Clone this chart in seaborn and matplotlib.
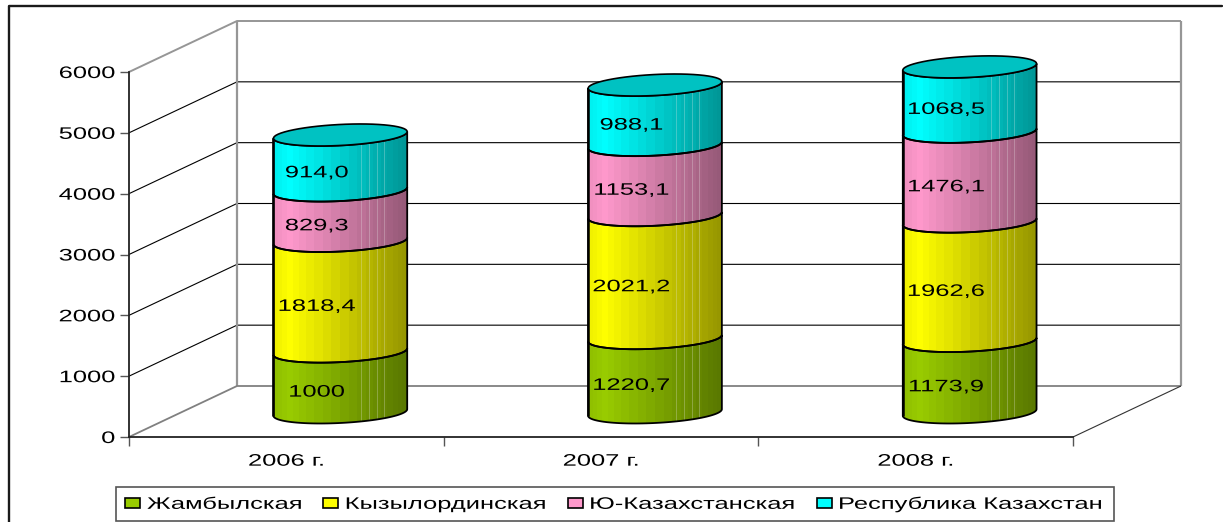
import matplotlib
matplotlib.use("Agg")
import matplotlib.pyplot as plt
import matplotlib.patheffects as pe
import numpy as np
import seaborn as sns
from matplotlib.lines import Line2D
from matplotlib.offsetbox import DrawingArea
from matplotlib.patches import Polygon
from matplotlib.transforms import Affine2D

# Данные
years = ["2006 г.", "2007 г.", "2008 г."]
region_names = ["Жамбылская", "Кызылординская", "Ю-Казахстанская", "Республика Казахстан"]
zhambyl = [1000, 1220.7, 1173.9]
kyzylorda = [1818.4, 2021.2, 1962.6]
south_kz = [829.3, 1153.1, 1476.1]
kazakhstan = [914.0, 988.1, 1068.5]
zhambyl_txt = ["1000", "1220,7", "1173,9"]
kyzylorda_txt = ["1818,4", "2021,2", "1962,6"]
south_kz_txt = ["829,3", "1153,1", "1476,1"]
kazakhstan_txt = ["914,0", "988,1", "1068,5"]
y_ticks = [0, 1000, 2000, 3000, 4000, 5000, 6000]

series = [zhambyl, kyzylorda, south_kz, kazakhstan]
series_txt = [zhambyl_txt, kyzylorda_txt, south_kz_txt, kazakhstan_txt]
colors = ["#99CC00", "#FFFF00", "#FF99CC", "#00FFFF"]

W, H = 1223, 522
FONT = 12
STRETCH = 1.53


class StretchX(pe.AbstractPathEffect):
    # старый Excel растягивал шрифт по ширине
    def __init__(self, k=STRETCH, anchor="center"):
        super().__init__()
        self.k = k
        self.anchor = anchor

    def draw_path(self, renderer, gc, tpath, affine, rgbFace=None):
        ext = tpath.get_extents()
        x0 = {"left": ext.x0, "center": (ext.x0 + ext.x1) / 2, "right": ext.x1}[self.anchor]
        stretched = Affine2D().translate(-x0, 0).scale(self.k, 1).translate(x0, 0) + affine
        renderer.draw_path(gc, tpath, stretched, rgbFace)


sns.set_theme(style="white")
plt.rcParams["font.family"] = ["Liberation Sans", "DejaVu Sans"]

fig = plt.figure(figsize=(W / 100, H / 100), dpi=100)
ax = fig.add_axes([129 / W, 1 - 437 / H, 944 / W, 365 / H])
ax.patch.set_alpha(0)

# Столбики через seaborn, дальше по их геометрии рисуем цилиндры
bottom = np.zeros(3)
for vals, name, c in zip(series, region_names, colors):
    sns.barplot(x=years, y=vals, bottom=bottom, color=c, saturation=1, width=0.425,
                label=name, ax=ax, legend=False)
    bottom = bottom + np.array(vals)

ax.set_xlim(-0.5, 2.5)
ax.set_ylim(0, 6000)
DX = 108 / (944 / 3)        # глубина "3D" коробки
DY = 51 / (365 / 6000)
LIFT = 403                  # основание цилиндра над передней гранью
B = 10.5 / (365 / 6000)     # полуоси эллипса
TILT = 3.3 / (365 / 6000)

# Стены коробки
gray = "#969696"
wall = dict(clip_on=False, zorder=1, solid_capstyle="butt")
for v in y_ticks[1:-1]:
    ax.plot([-0.5, -0.5 + DX, 2.5 + DX], [v, v + DY, v + DY], color="black", lw=0.8, **wall)
ax.plot([-0.5, -0.5 + DX, 2.5 + DX], [6000, 6000 + DY, 6000 + DY], color=gray, lw=1.4, **wall)
ax.plot([-0.5 + DX, -0.5 + DX], [DY, 6000 + DY], color=gray, lw=1.6, **wall)
ax.plot([2.5 + DX, 2.5 + DX], [DY, 6000 + DY], color=gray, lw=1.6, **wall)
ax.plot([-0.5, -0.5 + DX, 2.5 + DX], [0, DY, DY], color="#808080", lw=1.3, **wall)
ax.plot([2.5, 2.5 + DX], [0, DY], color="#333333", lw=0.8, **wall)

# Легенда
leg = ax.legend(loc="lower left", bbox_to_anchor=(116 / W, 1 - 521 / H), bbox_transform=fig.transFigure,
                ncols=4, fontsize=FONT, frameon=True, fancybox=False, framealpha=1,
                edgecolor="#555555", borderaxespad=0, borderpad=0.55, handlelength=0.9,
                handleheight=0.54, handletextpad=0.42, columnspacing=1.2)
leg.get_frame().set_linewidth(1.2)
leg.set_zorder(6)
for h in leg.legend_handles:
    h.set_edgecolor("black")
    h.set_linewidth(1.2)
renderer = fig.canvas.get_renderer()
columns = leg._legend_handle_box._children
texts = leg.get_texts()
for txt, col in zip(texts, list(columns)):
    extra = txt.get_window_extent(renderer).width * (STRETCH - 1) * 72 / fig.dpi
    if txt is texts[-1]:
        columns.append(DrawingArea(extra - 14.4, 0))
    else:
        columns.insert(columns.index(col) + 1, DrawingArea(extra - 14.4, 0))
for txt in texts:
    txt.set_path_effects([StretchX(anchor="left")])
    txt.set_color("black")

# Грани цилиндра: шире к краям, светлые швы справа
angles = np.linspace(0, np.pi, 25)
edges = (1 - np.cos(angles)) / 2
n_col = 270
fr = (np.arange(n_col) + 0.5) / n_col
facet = np.clip(np.searchsorted(edges, fr) - 1, 0, len(edges) - 2)
mid = ((edges[:-1] + edges[1:]) / 2)[facet]
shade = np.interp(mid, [0, 0.12, 1], [0.93, 1.0, 0.58])
seams = [0.66, 0.72, 0.78, 0.83, 0.865, 0.9, 0.93, 0.955]


def arc(cx, a, base, start, stop):
    t = np.linspace(start, stop, 60)
    return np.c_[cx + a * np.cos(t), base + B * np.sin(t) + TILT * np.cos(t)]


bars = ax.patches
for j, c in enumerate(colors):
    rgb = np.array(matplotlib.colors.to_rgb(c))
    strip = rgb[None, :] * shade[:, None]
    for s in seams:
        idx = int(s * n_col)
        strip[idx:idx + 1] = strip[idx:idx + 1] * 0.72 + 0.28 * np.array([0.92, 0.92, 0.92])
    for i in range(3):
        bar = bars[j * 3 + i]
        cx = bar.get_x() + bar.get_width() / 2 + DX / 2
        a = bar.get_width() / 2
        y0 = bar.get_y() + LIFT
        y1 = y0 + bar.get_height()
        outline = np.r_[arc(cx, a, y0, np.pi, 2 * np.pi), arc(cx, a, y1, 2 * np.pi, np.pi)]
        im = ax.imshow(strip[None, :, :], extent=[cx - a, cx + a, y0 - 2 * B, y1 + 2 * B],
                       aspect="auto", interpolation="nearest", zorder=3)
        poly = Polygon(outline, closed=True, facecolor="none", edgecolor="black", lw=1.3,
                       zorder=3.2, clip_on=False)
        ax.add_patch(poly)
        im.set_clip_box(fig.bbox)
        im.set_clip_path(poly)
        ax.plot([cx - a, cx - a], [y0 - TILT, y1 - TILT], color="black", lw=1.8,
                clip_on=False, zorder=3.3, solid_capstyle="butt")
        ax.text(cx - 0.075, (y0 + y1) / 2 - 165, series_txt[j][i], ha="center", va="center",
                fontsize=FONT, color="black", zorder=5, clip_on=False,
                path_effects=[StretchX()])
        if j == len(colors) - 1:
            lid = arc(cx, a, y1, 0, 2 * np.pi)
            ax.add_patch(Polygon(lid, closed=True, facecolor="#00C2C2", edgecolor="black",
                                 lw=1.2, zorder=3.5, clip_on=False))

for bar in bars[:12]:
    bar.set_visible(False)
ax.set_xlim(-0.5, 2.5)
ax.set_ylim(0, 6000)

# Оси
sns.despine(ax=ax)
for side in ["left", "bottom"]:
    ax.spines[side].set_color("#222222")
    ax.spines[side].set_linewidth(1.3)
ax.set_yticks(y_ticks)
ax.set_xticks(range(3))
ax.set_xticklabels(years)
ax.set_xticks([-0.5, 0.5, 1.5, 2.5], minor=True)
ax.tick_params(axis="y", left=True, length=6.5, width=1, color="#555555", pad=3.6,
               labelsize=FONT, labelcolor="black")
ax.tick_params(axis="x", which="major", bottom=False, length=0, pad=12, labelsize=FONT, labelcolor="black")
ax.tick_params(axis="x", which="minor", bottom=True, length=6.5, width=1, color="#555555")
ax.set_xlabel("")
ax.set_ylabel("")
for lab in ax.get_yticklabels():
    lab.set_path_effects([StretchX(anchor="right")])
for lab in ax.get_xticklabels():
    lab.set_path_effects([StretchX()])

# Внешняя рамка обрезана снизу и справа
fig.add_artist(Line2D([8.5 / W, 8.5 / W, 1222 / W], [0, 1 - 5.5 / H, 1 - 5.5 / H], color="#1a1a1a", lw=1.7))

fig.savefig("out.png", dpi=100)
